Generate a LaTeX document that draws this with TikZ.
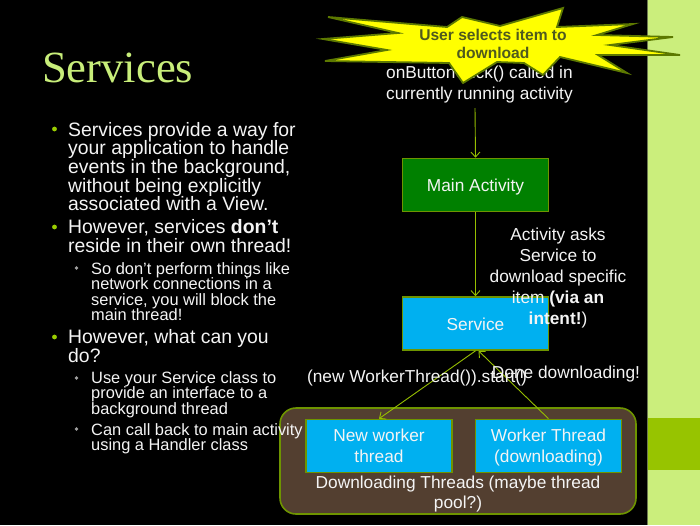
\documentclass[tikz,border=0pt]{standalone}
\usepackage{fontspec}
\setmainfont{Liberation Sans}
\newfontfamily\titlefont{Liberation Serif}
\usetikzlibrary{arrows.meta}

\definecolor{stripgreen}{HTML}{CBEE7C}
\definecolor{bandgreen}{HTML}{97C400}
\definecolor{stripline}{HTML}{6E7A50}
\definecolor{titlegreen}{HTML}{C8EE7A}
\definecolor{bulletgreen}{HTML}{99CC00}
\definecolor{subgray}{HTML}{A0A0A0}
\definecolor{boxedge}{HTML}{6E9400}
\definecolor{arrowgreen}{HTML}{96BE00}
\definecolor{actgreen}{HTML}{008000}
\definecolor{svcblue}{HTML}{00B0F0}
\definecolor{poolbrown}{HTML}{533F30}
\definecolor{burstyellow}{HTML}{FFFF00}
\definecolor{burstedge}{HTML}{5C7800}
\definecolor{bursttext}{HTML}{4F5A1E}
\definecolor{txt}{HTML}{F4F4F4}

% even line boxes for the two-line flow boxes
\newcommand{\toprow}{\rule{0pt}{16pt}}
\newcommand{\lowrow}{\vphantom{(}}

\begin{document}
\begin{tikzpicture}[x=1pt,y=-1pt,
  box/.style={draw=boxedge, line width=1.6pt, minimum width=146pt,
    minimum height=53pt, inner sep=0pt, text=txt, align=center,
    font=\fontsize{17.3}{20.6}\selectfont},
  oneline/.style={text height=13pt, text depth=0pt},
  flow/.style={draw=arrowgreen, line width=0.9pt,
    -{Straight Barb[length=5pt,width=9pt]}},
  lbl/.style={text=txt, inner sep=0pt, align=center,
    font=\fontsize{17.3}{21}\selectfont},
  bulletmain/.style={text=txt, inner sep=0pt, align=left, anchor=base west,
    font=\fontsize{19.4}{18.7}\selectfont},
  bulletsub/.style={text=txt, inner sep=0pt, align=left, anchor=base west,
    font=\fontsize{16.4}{15.6}\selectfont},
  burst/.style={fill=burstyellow, draw=burstedge, line width=1.8pt,
    line join=miter}
]
\useasboundingbox (0,0) rectangle (700,525);

% slide background and side strip
\fill[black] (0,0) rectangle (647,525);
\fill[stripgreen] (647,0) rectangle (700,525);
\fill[bandgreen] (647,418) rectangle (700,470);
\draw[stripline, line width=0.8pt] (647,0) -- (647,525);

% title
\node[anchor=base west, inner sep=0pt, text=titlegreen,
  font=\titlefont\fontsize{44.6}{44.6}\selectfont] (title) at (42,82) {Services};

% bullet markers
\fill[bulletgreen] (54.5,129) circle (2.4pt);
\fill[bulletgreen] (54.5,227) circle (2.4pt);
\fill[bulletgreen] (54.5,337) circle (2.4pt);
\fill[subgray] (76.5,268) circle (1.9pt);
\fill[subgray] (76.5,378) circle (1.9pt);
\fill[subgray] (76.5,429) circle (1.9pt);

% bullet texts (placed by the baseline of their last line)
\node[bulletmain] (b1) at (68,210.8) {Services provide a way for\\your application to handle\\events in the background,\\without being explicitly\\associated with a View.};
\node[bulletmain] (b2) at (68,252) {However, services \textbf{don’t}\\reside in their own thread!};
\node[bulletsub] (s1) at (91,320.8) {So don’t perform things like\\network connections in a\\service, you will block the\\main thread!};
\node[bulletmain] (b3) at (68,362) {However, what can you\\do?};
\node[bulletsub] (s2) at (91,414.5) {Use your Service class to\\provide an interface to a\\background thread};

% thread pool group
\node[draw=boxedge, line width=1.6pt, fill=poolbrown, rounded corners=16pt,
  minimum width=356pt, minimum height=106pt, inner sep=0pt] (pool) at (458,461) {};
\node[lbl, anchor=base, font=\fontsize{17.3}{20}\selectfont] (poollbl) at (458,508.3) {Downloading Threads (maybe thread\\pool?)};

\node[bulletsub] (s3) at (91,450.6) {Can call back to main activity\\using a Handler class};

% flow boxes
\node[box, oneline, fill=actgreen] (main) at (475.5,185) {Main Activity};
\node[box, oneline, fill=svcblue] (svc) at (475.5,323.5) {Service};
\node[box, fill=svcblue] (nw) at (379,446) {\toprow New worker\\thread\lowrow};
\node[box, fill=svcblue] (wt) at (548.5,446) {\toprow Worker Thread\\(downloading)};

% connectors
\coordinate (clickend) at (475,108);
\draw[flow] (clickend) -- (main.north);
\draw[flow] (main.south) -- (svc.north);
\draw[flow] (svc.south) -- (nw.north);
\draw[flow] (wt.north) -- ([xshift=3pt]svc.south);

% connector labels
\node[lbl, anchor=base west, align=left] (click) at (386,99.5) {onButtonClick() called in\\currently running activity};
\node[lbl, anchor=base] (ask) at (558,324) {Activity asks\\Service to\\download specific\\item \textbf{(via an}\\\textbf{intent!})};
\node[lbl, anchor=base] (start) at (417,382.7) {(new WorkerThread()).start()};
\node[lbl, anchor=base] (done) at (566,378.3) {Done downloading!};

% user action starburst
\draw[burst] (328,17) -- (447,27) -- (462,17) -- (500,26) -- (563,8)
  -- (557,27) -- (633,24) -- (597,35) -- (673,37) -- (610,45) -- (680,55)
  -- (598,55) -- (627,73) -- (560,57) -- (543,75) -- (524,63)
  -- (497,62) -- (463,83) -- (449,63) -- (325,61) -- (387,50) -- (323,39)
  -- (398,33) -- cycle;
\node[anchor=base, inner sep=0pt, text=bursttext, align=center,
  font=\bfseries\fontsize{15.6}{18.3}\selectfont] (user) at (493,58.3) {User selects item to\\download};
\end{tikzpicture}
\end{document}
